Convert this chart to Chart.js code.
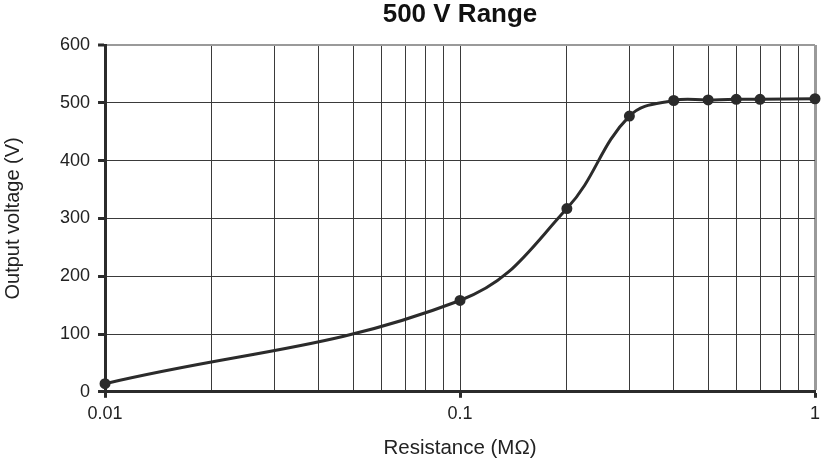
<!DOCTYPE html>
<html>
<head>
<meta charset="utf-8">
<script src="https://cdn.jsdelivr.net/npm/chart.js@4/dist/chart.umd.min.js"></script>
<style>
html,body{margin:0;padding:0;background:#fff;}
#wrap{width:822px;height:461px;}
</style>
</head>
<body>
<div id="wrap"><canvas id="c" width="822" height="461"></canvas></div>
<script>
const chartTitle = "500 V Range";
const xTitle = "Resistance (M\u03A9)";
const yTitle = "Output voltage (V)";
const resistance = [0.01, 0.1, 0.2, 0.3, 0.4, 0.5, 0.6, 0.7, 1];
const voltage = [14, 158, 317, 477, 504, 505, 506, 506, 507];
const xTickValues = [0.01,0.02,0.03,0.04,0.05,0.06,0.07,0.08,0.09,0.1,0.2,0.3,0.4,0.5,0.6,0.7,0.8,0.9,1];
const xTickLabels = {"0.01":"0.01","0.1":"0.1","1":"1"};
const yTickValues = [0,100,200,300,400,500,600];

const FONT = "'Liberation Sans', Arial, sans-serif";

const titlePlugin = {
  id: 'areaTitle',
  afterDraw(chart) {
    const {ctx, chartArea} = chart;
    ctx.save();
    ctx.font = "bold 26px " + FONT;
    ctx.fillStyle = "#111";
    ctx.textAlign = "center";
    ctx.textBaseline = "alphabetic";
    ctx.fillText(chartTitle, (chartArea.left + chartArea.right) / 2, 22);
    ctx.restore();
  }
};

new Chart(document.getElementById('c'), {
  type: 'line',
  data: {
    datasets: [{
      data: resistance.map((r, i) => ({x: r, y: voltage[i]})),
      borderColor: '#2b2b2b',
      backgroundColor: '#2b2b2b',
      borderWidth: 3,
      pointRadius: 4,
      pointHoverRadius: 4,
      tension: 0.4,
      fill: false,
      clip: false
    }]
  },
  options: {
    responsive: false,
    animation: false,
    layout: {padding: {top: 45, right: 4, left: 0, bottom: 0}},
    plugins: {legend: {display: false}, tooltip: {enabled: false}, title: {display: false}},
    scales: {
      x: {
        type: 'logarithmic',
        min: 0.01, max: 1,
        afterBuildTicks(scale) { scale.ticks = xTickValues.map(v => ({value: v})); },
        afterFit(scale) { scale.paddingRight = 0; },
        ticks: {
          autoSkip: false, maxRotation: 0, color: '#222',
          font: {family: FONT, size: 18}, padding: 5,
          callback: (v) => xTickLabels[String(v)] || ''
        },
        grid: {
          color: (c) => (c.tick && c.tick.value === 1) ? '#9a9a9a' : '#3a3a3a',
          lineWidth: (c) => (c.tick && c.tick.value === 1) ? 3 : 1,
          tickColor: (c) => (c.tick && xTickLabels[String(c.tick.value)]) ? '#2b2b2b' : 'rgba(0,0,0,0)',
          tickLength: 6,
          tickWidth: 3
        },
        border: {color: '#2b2b2b', width: 3},
        title: {display: true, text: xTitle, color: '#222', font: {family: FONT, size: 20.5}, padding: {top: 7, bottom: 0}}
      },
      y: {
        min: 0, max: 600,
        afterBuildTicks(scale) { scale.ticks = yTickValues.map(v => ({value: v})); },
        ticks: {color: '#222', font: {family: FONT, size: 18}, padding: 8},
        grid: {
          color: (c) => (c.tick && c.tick.value === 600) ? '#9a9a9a' : '#3a3a3a',
          lineWidth: (c) => (c.tick && c.tick.value === 600) ? 2 : 1,
          tickColor: '#2b2b2b',
          tickLength: 7,
          tickWidth: 3
        },
        border: {color: '#2b2b2b', width: 3},
        title: {display: true, text: yTitle, color: '#222', font: {family: FONT, size: 20}, padding: {top: 1, bottom: 27}}
      }
    }
  },
  plugins: [titlePlugin]
});
</script>
</body>
</html>
